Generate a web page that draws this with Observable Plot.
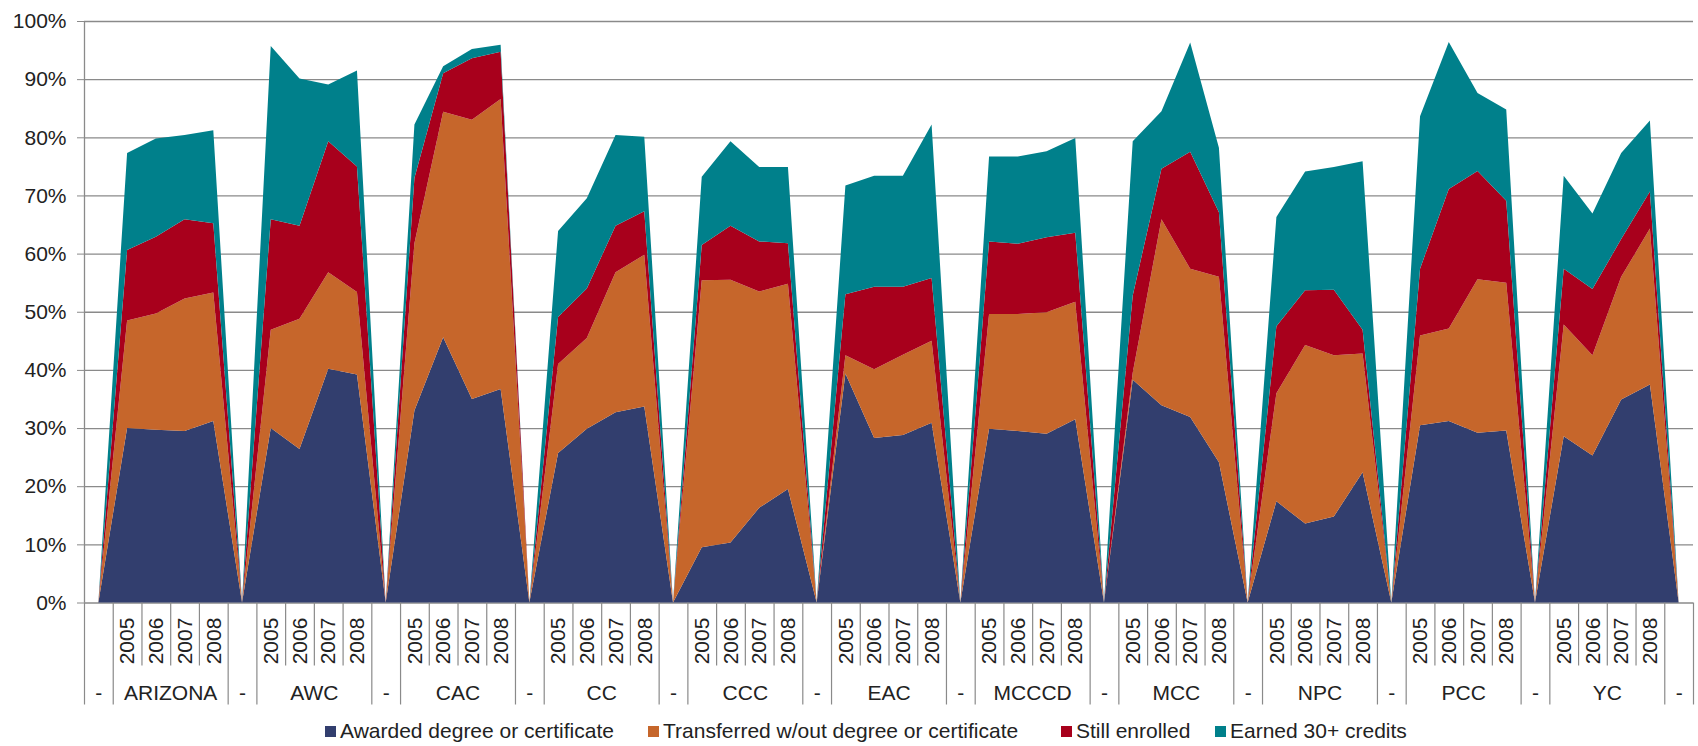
<!DOCTYPE html>
<html>
<head>
<meta charset="utf-8">
<script src="https://cdn.jsdelivr.net/npm/d3@7"></script>
<script src="https://cdn.jsdelivr.net/npm/@observablehq/plot@0.6"></script>
<style>
  html, body { margin: 0; padding: 0; background: #fff; }
  #chart { width: 1698px; height: 746px; position: relative; font-family: "Liberation Sans", Arial, sans-serif; color: #222; }
  .legend { position: relative; height: 30px; font-size: 21px; }
  .legend .item { position: absolute; top: 0; height: 30px; display: flex; align-items: center; gap: 4px; white-space: nowrap; }
  .legend .sw { width: 11px; height: 11px; display: inline-block; }
</style>
</head>
<body>
<div id="chart"></div>
<script>
// Outcome shares (%) by college and cohort year
const groups = ["ARIZONA", "AWC", "CAC", "CC", "CCC", "EAC", "MCCCD", "MCC", "NPC", "PCC", "YC"];
const years = ["2005", "2006", "2007", "2008"];
const seriesNames = [
  "Awarded degree or certificate",
  "Transferred w/out degree or certificate",
  "Still enrolled",
  "Earned 30+ credits"
];
const seriesColors = ["#323e6e", "#c6662b", "#a8001c", "#00808b"];

// One value per college-year, colleges in the order above, years 2005–2008
const awarded = [
  30.0, 29.7, 29.5, 31.2,
  30.0, 26.4, 40.2, 39.2,
  33.0, 45.6, 35.0, 36.7,
  25.7, 29.9, 32.7, 33.7,
  9.5, 10.3, 16.3, 19.5,
  39.4, 28.3, 28.8, 30.9,
  29.9, 29.5, 29.0, 31.5,
  38.3, 33.9, 31.9, 24.1,
  17.4, 13.6, 14.8, 22.4,
  30.5, 31.2, 29.2, 29.6,
  28.6, 25.3, 34.9, 37.5
];
const transferred = [
  18.5, 20.0, 22.8, 22.1,
  16.9, 22.4, 16.6, 14.2,
  28.8, 38.8, 48.0, 49.9,
  15.3, 15.6, 24.1, 26.1,
  45.9, 45.2, 37.2, 35.3,
  3.1, 11.8, 13.8, 14.1,
  19.7, 20.1, 20.9, 20.2,
  1.2, 32.0, 25.5, 31.9,
  18.6, 30.7, 27.7, 20.4,
  15.4, 15.9, 26.4, 25.4,
  19.2, 17.2, 21.1, 26.8
];
const stillEnrolled = [
  12.1, 13.2, 13.6, 11.9,
  19.0, 16.0, 22.5, 21.6,
  11.2, 6.6, 10.6, 8.1,
  8.1, 8.5, 8.0, 7.5,
  6.1, 9.3, 8.6, 7.0,
  10.5, 14.2, 11.7, 10.8,
  12.5, 12.1, 12.9, 11.9,
  13.3, 8.7, 20.1, 11.1,
  11.5, 9.4, 11.3, 4.1,
  11.5, 24.0, 18.6, 14.1,
  9.6, 11.4, 6.5, 6.4
];
const earned30 = [
  16.7, 16.9, 14.5, 16.0,
  29.8, 25.3, 9.8, 16.5,
  9.2, 1.2, 1.6, 1.2,
  14.8, 15.5, 15.6, 12.8,
  11.7, 14.5, 12.8, 13.1,
  18.7, 19.1, 19.1, 26.4,
  14.6, 15.0, 14.8, 16.3,
  26.5, 9.9, 18.8, 11.1,
  18.8, 20.4, 21.1, 29.0,
  26.2, 25.3, 13.4, 15.7,
  16.0, 13.0, 14.8, 12.2
];
const yTicks = [0, 10, 20, 30, 40, 50, 60, 70, 80, 90, 100];

// Category sequence: a "-" spacer (all zero) before each college and after the last one
const seriesValues = [awarded, transferred, stillEnrolled, earned30];
const cells = [];   // one per category on the x axis
const rows = [];    // long format for the stacked areas
let idx = 0;
function addCell(group, year, k) {
  cells.push({i: idx, group, year});
  seriesNames.forEach((s, si) => {
    rows.push({i: idx, series: s, value: k == null ? 0 : seriesValues[si][k]});
  });
  idx++;
}
groups.forEach((g, gi) => {
  addCell("-", "", null);
  years.forEach((y, yi) => addCell(g, y, gi * 4 + yi));
});
addCell("-", "", null);

const dashCells = cells.filter(c => c.group === "-");
const yearCells = cells.filter(c => c.group !== "-");
const groupCenters = groups.map(g => {
  const c = cells.filter(d => d.group === g);
  return {group: g, i: d3.mean(c, d => d.i)};
});
// Cell borders: full height beside the spacers, short between years
const longBorders = dashCells.flatMap(c => [c.i - 0.5, c.i + 0.5]);
const shortBorders = yearCells.filter(c => c.year !== "2008").map(c => c.i + 0.5);

const n = cells.length;
const lineColor = "#8a8a8a";

const plot = Plot.plot({
  width: 1698,
  height: 716,
  marginLeft: 84,
  marginRight: 5,
  marginTop: 21,
  marginBottom: 113.5,
  style: {fontFamily: "\"Liberation Sans\", Arial, sans-serif", fontSize: "21px", color: "#222", background: "#fff"},
  x: {domain: [-0.5, n - 0.5], axis: null},
  y: {domain: [0, 100], axis: null},
  color: {domain: seriesNames, range: seriesColors},
  marks: [
    Plot.ruleY(yTicks, {stroke: lineColor, strokeWidth: 1.3}),
    Plot.areaY(rows, {x: "i", y: "value", fill: "series", order: seriesNames, curve: "linear"}),
    Plot.ruleX([-0.5], {y1: 0, y2: 100, stroke: lineColor, strokeWidth: 1.3}),
    Plot.axisY(yTicks, {
      tickSize: 7, tickPadding: 11, stroke: lineColor, fill: "#222",
      tickFormat: d => d + "%", label: null, fontSize: 21
    }),
    // category axis below the plot
    Plot.ruleX(longBorders, {x: d => d, y1: () => 0, y2: () => 0, insetBottom: -102, stroke: lineColor, strokeWidth: 1.2}),
    Plot.ruleX(shortBorders, {x: d => d, y1: () => 0, y2: () => 0, insetBottom: -63, stroke: lineColor, strokeWidth: 1.2}),
    Plot.text(yearCells, {x: "i", y: () => 0, text: "year", rotate: -90, dy: 38, fill: "#222", fontSize: 21}),
    Plot.text(groupCenters, {x: "i", y: () => 0, text: "group", dy: 90, fill: "#222", fontSize: 21}),
    Plot.text(dashCells, {x: "i", y: () => 0, text: "group", dy: 90, fill: "#222", fontSize: 21})
  ]
});

const chart = document.getElementById("chart");
chart.appendChild(plot);

// Legend below the chart
const legendLeft = [325, 648, 1061, 1215];
const legend = document.createElement("div");
legend.className = "legend";
seriesNames.forEach((s, si) => {
  const item = document.createElement("div");
  item.className = "item";
  item.style.left = legendLeft[si] + "px";
  const sw = document.createElement("span");
  sw.className = "sw";
  sw.style.background = seriesColors[si];
  const label = document.createElement("span");
  label.textContent = s;
  item.appendChild(sw);
  item.appendChild(label);
  legend.appendChild(item);
});
chart.appendChild(legend);
</script>
</body>
</html>
